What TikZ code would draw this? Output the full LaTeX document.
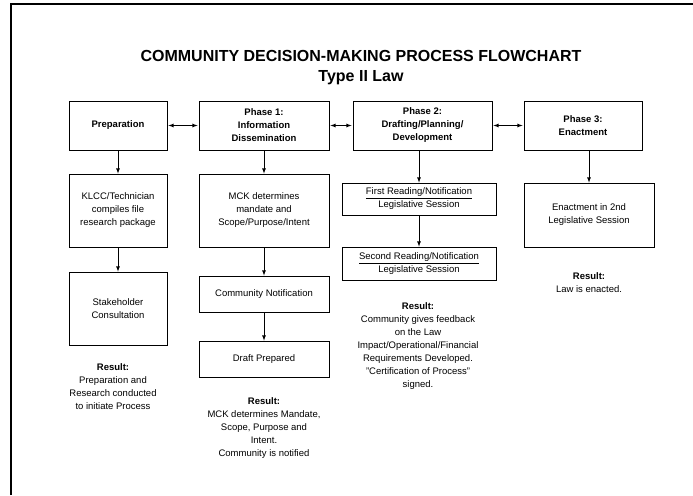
\documentclass[tikz,border=0pt]{standalone}
\usepackage{fontspec}
\setmainfont{Liberation Sans}
\usetikzlibrary{positioning,arrows}

\begin{document}
\begin{tikzpicture}
[x=1pt, y=-1pt, box/.style={draw, line width=0.8pt, align=center, inner sep=0pt, font=\fontsize{9.5}{13}\selectfont}, phase/.style={box, font=\fontsize{9.5}{13}\selectfont\bfseries, minimum height=49pt}, result/.style={align=center, anchor=north, inner sep=0pt, font=\fontsize{9.5}{13}\selectfont}, link/.style={draw, -latex, line width=0.8pt}, both/.style={draw, latex-latex, line width=0.8pt, shorten >=1pt, shorten <=1pt}]
\useasboundingbox (0,0) rectangle (693,495);
\draw[line width=1.6pt] (11,495) -- (11,4) -- (693,4);
\node[font=\fontsize{16}{20}\selectfont\bfseries, align=center] (title) at (361,68) {COMMUNITY DECISION-MAKING PROCESS FLOWCHART\\Type II Law};
% phases
\node[phase, minimum width=98pt] (prep) at (118,125.5) {Preparation};
\node[phase, minimum width=130pt] (phase1) at (264,125.5) {Phase 1:\\Information\\Dissemination};
\node[phase, minimum width=139pt] (phase2) at (422.5,125.5) {Phase 2:\\Drafting/Planning/\\Development};
\node[phase, minimum width=118pt] (phase3) at (583,125.5) {Phase 3:\\Enactment};
% steps
\node[box, minimum width=98pt, minimum height=73pt] (klcc) at (118,210.5) {KLCC/Technician\\compiles file\\research package};
\node[box, minimum width=98pt, minimum height=73pt] (stake) at (118,308.5) {Stakeholder\\Consultation};
\node[box, minimum width=130pt, minimum height=73pt] (mck) at (264,210.5) {MCK determines\\mandate and\\Scope/Purpose/Intent};
\node[box, minimum width=130pt, minimum height=36pt] (notify) at (264,294) {Community Notification};
\node[box, minimum width=130pt, minimum height=36pt] (draft) at (264,359) {Draft Prepared};
\node[box, minimum width=154pt, minimum height=32pt] (first) at (419,199) {\underline{First Reading/Notification}\\Legislative Session};
\node[box, minimum width=154pt, minimum height=33pt] (second) at (419,263.5) {\underline{Second Reading/Notification}\\Legislative Session};
\node[box, minimum width=130pt, minimum height=64pt] (enact) at (589,215) {Enactment in 2nd\\Legislative Session};
% results
\node[result] (res0) at (113,363) {\textbf{Result:}\\Preparation and\\Research conducted\\to initiate Process};
\node[result] (res1) at (264,397) {\textbf{Result:}\\MCK determines Mandate,\\Scope, Purpose and\\Intent.\\Community is notified};
\node[result] (res2) at (418,302) {\textbf{Result:}\\Community gives feedback\\on the Law\\Impact/Operational/Financial\\Requirements Developed.\\"Certification of Process"\\signed.};
\node[result] (res3) at (589,272) {\textbf{Result:}\\Law is enacted.};
% connectors
\draw[both] (prep) -- (phase1);
\draw[both] (phase1) -- (phase2);
\draw[both] (phase2) -- (phase3);
\draw[link] (prep) -- (klcc);
\draw[link] (klcc) -- (stake);
\draw[link] (phase1) -- (mck);
\draw[link] (mck) -- (notify);
\draw[link] (notify) -- (draft);
\draw[link] (first.north |- phase2.south) -- (first);
\draw[link] (first) -- (second);
\draw[link] (enact.north |- phase3.south) -- (enact);
\end{tikzpicture}
\end{document}
